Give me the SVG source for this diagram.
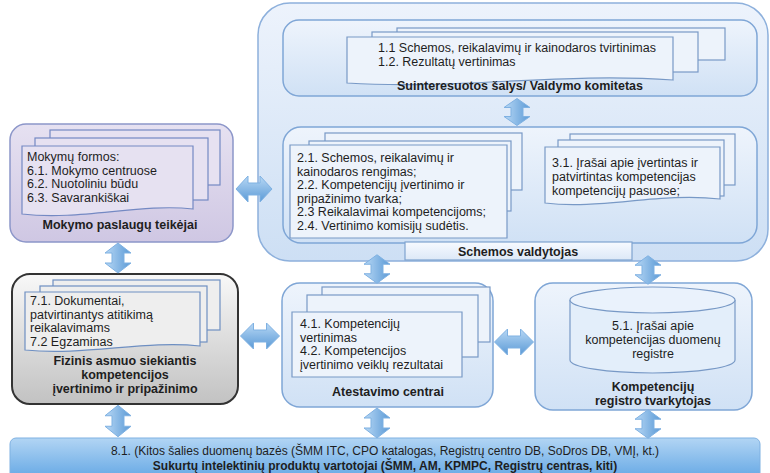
<svg xmlns="http://www.w3.org/2000/svg" width="770" height="473" viewBox="0 0 770 473">
<defs>
  <linearGradient id="gOuter" x1="0" y1="0" x2="0" y2="1"><stop offset="0" stop-color="#edf3fc"/><stop offset="1" stop-color="#cddff4"/></linearGradient>
  <linearGradient id="gBox" x1="0" y1="0" x2="0" y2="1"><stop offset="0" stop-color="#eef4fc"/><stop offset="1" stop-color="#d0e1f5"/></linearGradient>
  <linearGradient id="gLav" x1="0" y1="0" x2="0" y2="1"><stop offset="0" stop-color="#e6e1f1"/><stop offset="1" stop-color="#cfc7e3"/></linearGradient>
  <linearGradient id="gGray" x1="0" y1="0" x2="0" y2="1"><stop offset="0" stop-color="#f8f8f8"/><stop offset="1" stop-color="#c2c2c2"/></linearGradient>
  <linearGradient id="gArrow" x1="0" y1="0" x2="1" y2="0"><stop offset="0" stop-color="#b8d8f5"/><stop offset="1" stop-color="#5b9ad6"/></linearGradient>
  <linearGradient id="gBar" x1="0" y1="0" x2="0" y2="1"><stop offset="0" stop-color="#b2d5f4"/><stop offset="1" stop-color="#62a6e4"/></linearGradient>
  <linearGradient id="gLabel" x1="0" y1="0" x2="0" y2="1"><stop offset="0" stop-color="#f7faff"/><stop offset="1" stop-color="#dce8f7"/></linearGradient>
  <path id="va" d="M0,-15 L13,-5 L6,-5 L6,5 L13,5 L0,15 L-13,5 L-6,5 L-6,-5 L-13,-5 Z" fill="url(#gArrow)" stroke="#7fb1e2" stroke-width="1" vector-effect="non-scaling-stroke"/>
</defs>
<style>
  text { font-family: "Liberation Sans", Arial, sans-serif; font-size: 12.5px; fill: #1e1e1e; }
  .t { font-weight: bold; text-anchor: middle; }
  .c { text-anchor: middle; }
  .bar { font-size: 12px; text-anchor: middle; }
  .barb { font-size: 12px; font-weight: bold; text-anchor: middle; }
  .outer { fill: url(#gOuter); stroke: #8db0dc; stroke-width: 1.5; }
  .box { fill: url(#gBox); stroke: #7fa6d6; stroke-width: 1.5; }
  .doc { fill: #edf3fb; stroke: #7899c6; stroke-width: 1.2; }
  .lav { fill: url(#gLav); stroke: #8c96c9; stroke-width: 1.5; }
  .ldoc { fill: #e6e1f1; stroke: #7489c3; stroke-width: 1.2; }
  .gray { fill: url(#gGray); stroke: #333; stroke-width: 2; }
  .gdoc { fill: #eeeeee; stroke: #6e8fc2; stroke-width: 1.2; }
</style>

<g id="schemos-valdytojas-area">
  <rect class="outer" x="258" y="3" width="510" height="258" rx="32"/>
</g>

<g id="valdymo-komitetas">
  <rect class="box" x="283" y="20" width="474" height="76" rx="16"/>
  <rect class="doc" x="397" y="28" width="328" height="32"/>
  <rect class="doc" x="372" y="32" width="326" height="40"/>
  <path class="doc" d="M347,37 H673 V80 C560,72 460,90 347,83 Z"/>
  <text x="378" y="52">1.1 Schemos, reikalavimų ir kainodaros tvirtinimas</text>
  <text x="378" y="66">1.2. Rezultatų vertinimas</text>
  <text class="t" x="520" y="90">Suinteresuotos šalys/ Valdymo komitetas</text>
</g>

<g id="schemos-valdytojas">
  <rect class="box" x="283" y="127" width="474" height="116" rx="18"/>
  <rect class="doc" x="325" y="133" width="197" height="57"/>
  <rect class="doc" x="309" y="141" width="202" height="70"/>
  <path class="doc" d="M290,145 H507 V238 H290 Z"/>
  <text x="297" y="162">2.1. Schemos, reikalavimų ir</text>
  <text x="297" y="175.5">kainodaros rengimas;</text>
  <text x="297" y="189">2.2. Kompetencijų įvertinimo ir</text>
  <text x="297" y="202.5">pripažinimo tvarka;</text>
  <text x="297" y="216">2.3 Reikalavimai kompetencijoms;</text>
  <text x="297" y="230">2.4. Vertinimo komisijų sudėtis.</text>
  <rect class="doc" x="570" y="134" width="165" height="51"/>
  <rect class="doc" x="558" y="140" width="166" height="56"/>
  <path class="doc" d="M545,147 H720 V199 C660,192 600,210 545,203 Z"/>
  <text x="552" y="167">3.1. Įrašai apie įvertintas ir</text>
  <text x="552" y="181">patvirtintas kompetencijas</text>
  <text x="552" y="195">kompetencijų pasuose;</text>
  <rect x="405" y="242" width="227" height="18" fill="url(#gLabel)" stroke="#7fa3cf" stroke-width="1.2"/>
  <text class="t" x="518" y="256">Schemos valdytojas</text>
</g>

<g id="mokymo-paslaugu-teikejai">
  <rect class="lav" x="10" y="124" width="223" height="118" rx="16"/>
  <rect class="ldoc" x="50" y="130" width="170" height="55"/>
  <rect class="ldoc" x="35" y="138" width="173" height="62"/>
  <path class="ldoc" d="M22,146 H193 V209 C140,203 80,221 22,214 Z"/>
  <text x="27" y="161">Mokymų formos:</text>
  <text x="27" y="174.5">6.1. Mokymo centruose</text>
  <text x="27" y="188">6.2. Nuotoliniu būdu</text>
  <text x="27" y="201.5">6.3. Savarankiškai</text>
  <text class="t" x="120" y="229">Mokymo paslaugų teikėjai</text>
</g>

<g id="fizinis-asmuo">
  <rect class="gray" x="12" y="274" width="226" height="130" rx="18"/>
  <rect class="gdoc" x="53" y="280" width="167" height="50"/>
  <rect class="gdoc" x="40" y="286" width="167" height="56"/>
  <path class="gdoc" d="M25,292 H200 V346 C145,340 85,356 25,350 Z"/>
  <text x="30" y="305">7.1. Dokumentai,</text>
  <text x="30" y="318.5">patvirtinantys atitikimą</text>
  <text x="30" y="332">reikalavimams</text>
  <text x="30" y="345.5">7.2 Egzaminas</text>
  <text class="t" x="125" y="365">Fizinis asmuo siekiantis</text>
  <text class="t" x="125" y="379">kompetencijos</text>
  <text class="t" x="125" y="393">įvertinimo ir pripažinimo</text>
</g>

<g id="atestavimo-centrai">
  <rect class="box" x="282" y="283" width="211" height="124" rx="18"/>
  <rect class="doc" x="322" y="287" width="168" height="55"/>
  <rect class="doc" x="307" y="295" width="171" height="62"/>
  <path class="doc" d="M292,312 H462 V377 H292 Z"/>
  <text x="300" y="328">4.1. Kompetencijų</text>
  <text x="300" y="341.5">vertinimas</text>
  <text x="300" y="355">4.2. Kompetencijos</text>
  <text x="300" y="369">įvertinimo veiklų rezultatai</text>
  <text class="t" x="388" y="396">Atestavimo centrai</text>
</g>

<g id="registro-tvarkytojas">
  <rect class="box" x="535" y="283" width="217" height="127" rx="18"/>
  <path d="M570,300 V360 A82.5,13 0 0 0 735,360 V300" fill="#e3eefa" stroke="#7899c6" stroke-width="1.2"/>
  <ellipse cx="652.5" cy="300" rx="82.5" ry="13" fill="#eaf2fc" stroke="#7899c6" stroke-width="1.2"/>
  <text class="c" x="653" y="330">5.1. Įrašai apie</text>
  <text class="c" x="653" y="344">kompetencijas duomenų</text>
  <text class="c" x="653" y="358">registre</text>
  <text class="t" x="653" y="391">Kompetencijų</text>
  <text class="t" x="653" y="405">registro tvarkytojas</text>
</g>

<g id="vartotojai">
  <rect x="10" y="438" width="750" height="42" rx="6" fill="url(#gBar)" stroke="#7fb1e2" stroke-width="1"/>
  <text class="bar" x="385" y="455">8.1. (Kitos šalies duomenų bazės (ŠMM ITC, CPO katalogas, Registrų centro DB, SoDros DB, VMĮ, kt.)</text>
  <text class="barb" x="385" y="470">Sukurtų intelektinių produktų vartotojai (ŠMM, AM, KPMPC, Registrų centras, kiti)</text>
</g>

<g id="connectors">
  <use href="#va" transform="translate(517,112) scale(1,0.9)"/>
  <use href="#va" transform="translate(254,189) rotate(90) scale(1,1.2)"/>
  <use href="#va" transform="translate(377,269) scale(1,0.95)"/>
  <use href="#va" transform="translate(648,270) scale(1,0.95)"/>
  <use href="#va" transform="translate(118,258) scale(1,1)"/>
  <use href="#va" transform="translate(260,336) rotate(90) scale(1,1.3)"/>
  <use href="#va" transform="translate(514,342) rotate(90) scale(1,1.3)"/>
  <use href="#va" transform="translate(118,421) scale(1,1.05)"/>
  <use href="#va" transform="translate(377,423) scale(1,1)"/>
  <use href="#va" transform="translate(648,424) scale(1,0.95)"/>
</g>
</svg>
